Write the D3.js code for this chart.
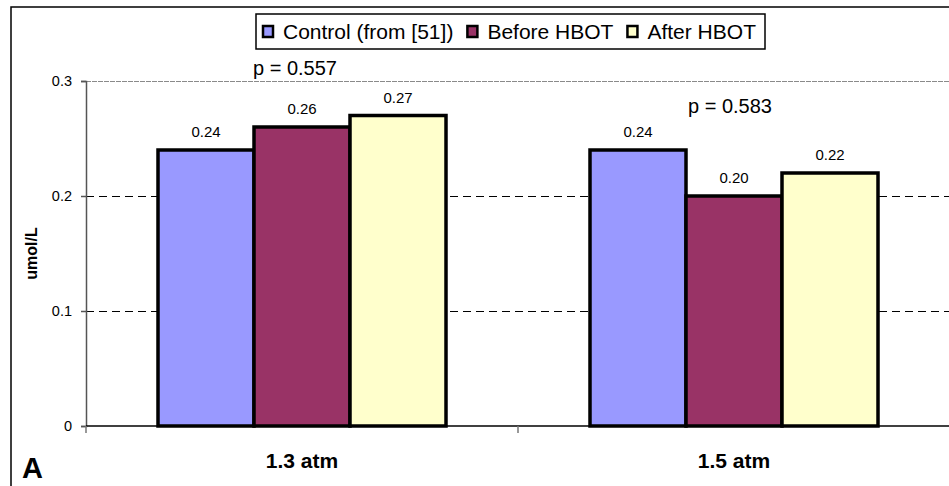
<!DOCTYPE html>
<html><head><meta charset="utf-8">
<script src="https://cdn.jsdelivr.net/npm/d3@7"></script>
<style>
html,body{margin:0;padding:0;background:#fff;}
svg{display:block;font-family:"Liberation Sans",Arial,Helvetica,sans-serif;}
</style></head>
<body>
<svg id="chart" width="949" height="486"></svg>
<script>
const categories = ["1.3 atm", "1.5 atm"];
const seriesNames = ["Control (from [51])", "Before HBOT", "After HBOT"];
const seriesColors = ["#9999FF", "#993366", "#FFFFCC"];
const control = [0.24, 0.24];
const before = [0.26, 0.20];
const after = [0.27, 0.22];
const valueLabels = [["0.24", "0.26", "0.27"], ["0.24", "0.20", "0.22"]];
const pValues = ["p = 0.557", "p = 0.583"];
const yTicks = [0, 0.1, 0.2, 0.3];
const yTickLabels = ["0", "0.1", "0.2", "0.3"];
const yTitle = "umol/L";
const panelLabel = "A";

const svg = d3.select("#chart");
const L = 86, R = 950, T = 81, B = 426;

// outer frame
svg.append("rect").attr("x", 11).attr("y", 7).attr("width", 960).attr("height", 500)
  .attr("fill", "none").attr("stroke", "#000").attr("stroke-width", 1.5);

const y = d3.scaleLinear().domain([0, 0.3]).range([B, T]);
const x0 = d3.scaleBand().domain(categories).range([L, R]).padding(0);
const x1 = d3.scaleBand().domain(seriesNames).range([0, x0.bandwidth()]).paddingInner(0).paddingOuter(0.75);

const values = [control, before, after];

// gridlines
yTicks.filter(t => t > 0).forEach(t => {
  svg.append("line").attr("x1", L).attr("x2", R).attr("y1", y(t) + 0.5).attr("y2", y(t) + 0.5)
    .attr("stroke", t === 0.3 ? "#8a8a8a" : "#000")
    .attr("stroke-width", t === 0.3 ? 1.5 : 1)
    .attr("shape-rendering", "crispEdges")
    .attr("stroke-dasharray", t === 0.3 ? "5,1" : "8,5");
});

// y axis
const yAxis = d3.axisLeft(y).tickValues(yTicks).tickFormat((d, i) => yTickLabels[i]).tickSize(5).tickPadding(9);
const gy = svg.append("g").attr("transform", `translate(${L},0)`).call(yAxis);
gy.select(".domain").attr("stroke", "#555").attr("stroke-width", 1.5);
gy.selectAll(".tick line").attr("stroke", "#555").attr("stroke-width", 1.5);
gy.selectAll(".tick text").attr("font-size", 14.5).attr("fill", "#000")
  .attr("font-family", "Liberation Sans, Arial, sans-serif");

// x axis baseline & boundary ticks
svg.append("line").attr("x1", L).attr("x2", R).attr("y1", B).attr("y2", B)
  .attr("stroke", "#000").attr("stroke-width", 1.5);
const bounds = categories.map(c => x0(c)).concat([x0(categories[categories.length - 1]) + x0.bandwidth()]);
bounds.forEach(bx => {
  svg.append("line").attr("x1", bx).attr("x2", bx).attr("y1", B).attr("y2", B + 7)
    .attr("stroke", "#777").attr("stroke-width", 1.5);
});

// bars
categories.forEach((c, ci) => {
  const g = svg.append("g").attr("transform", `translate(${x0(c)},0)`);
  seriesNames.forEach((s, si) => {
    const v = values[si][ci];
    g.append("rect").attr("x", x1(s)).attr("y", y(v))
      .attr("width", x1.bandwidth()).attr("height", y(0) - y(v))
      .attr("fill", seriesColors[si]).attr("stroke", "#000").attr("stroke-width", 3.5);
    g.append("text").attr("x", x1(s) + x1.bandwidth() / 2).attr("y", y(v) - 13)
      .attr("text-anchor", "middle").attr("font-size", 15).text(valueLabels[ci][si]);
  });
  svg.append("text").attr("x", x0(c) + x0.bandwidth() / 2).attr("y", 468)
    .attr("text-anchor", "middle").attr("font-size", 21).attr("font-weight", "bold").text(c);
});

// p-values
svg.append("text").attr("x", 253).attr("y", 75).attr("font-size", 20).text(pValues[0]);
svg.append("text").attr("x", 688).attr("y", 113).attr("font-size", 20).text(pValues[1]);

// y title
svg.append("text").attr("transform", `translate(37,${(T + B) / 2}) rotate(-90)`)
  .attr("text-anchor", "middle").attr("font-size", 16).attr("font-weight", "bold").text(yTitle);

// panel label
svg.append("text").attr("x", 22).attr("y", 478).attr("font-size", 29).attr("font-weight", "bold").text(panelLabel);

// legend
const lg = svg.append("g");
lg.append("rect").attr("x", 256).attr("y", 14).attr("width", 509).attr("height", 35)
  .attr("fill", "#fff").attr("stroke", "#000").attr("stroke-width", 1.5);
let lx = 262;
seriesNames.forEach((s, i) => {
  lg.append("rect").attr("x", lx + 1).attr("y", 26).attr("width", 10).attr("height", 11)
    .attr("fill", seriesColors[i]).attr("stroke", "#000").attr("stroke-width", 2.5);
  const t = lg.append("text").attr("x", lx + 21).attr("y", 39).attr("font-size", 21).text(s);
  lx = lx + 21 + t.node().getComputedTextLength() + 13;
});
</script>
</body></html>
